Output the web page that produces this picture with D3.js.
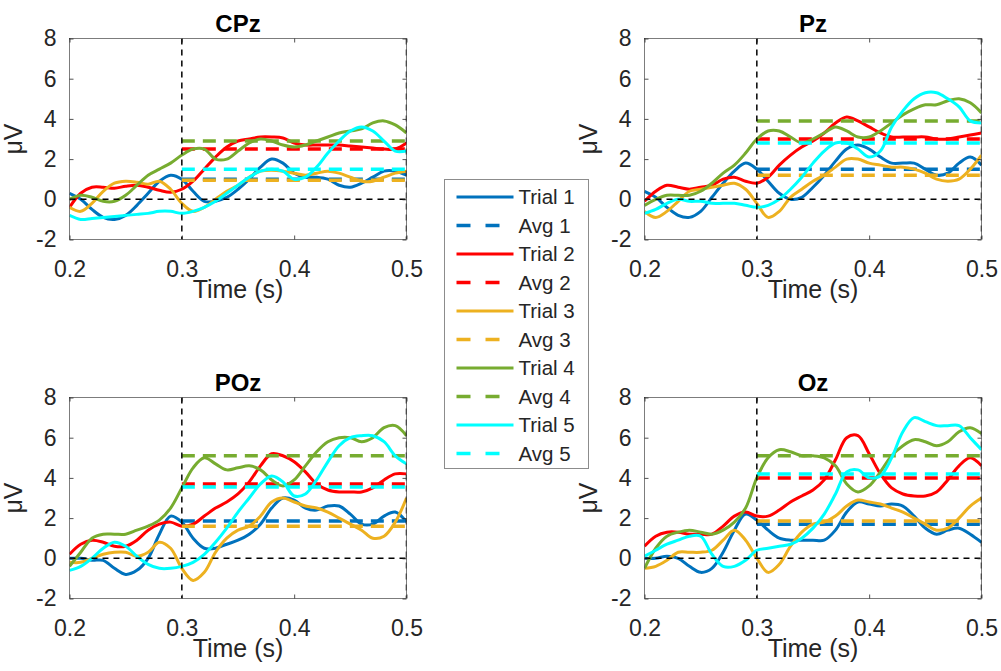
<!DOCTYPE html>
<html>
<head>
<meta charset="utf-8">
<script src="https://cdn.jsdelivr.net/npm/d3@7"></script>
<style>
  body { margin: 0; background: #fff; }
  svg { display: block; font-family: "Liberation Sans", Arial, sans-serif; }
</style>
</head>
<body>
<svg id="chart" width="1001" height="671"></svg>
<script>
// time axis (s), sampled every 10 ms
const time = [0.20, 0.21, 0.22, 0.23, 0.24, 0.25, 0.26, 0.27, 0.28, 0.29, 0.30,
              0.31, 0.32, 0.33, 0.34, 0.35, 0.36, 0.37, 0.38, 0.39, 0.40,
              0.41, 0.42, 0.43, 0.44, 0.45, 0.46, 0.47, 0.48, 0.49, 0.50];

const channels = ["CPz", "Pz", "POz", "Oz"];
const trialNames = ["Trial 1", "Trial 2", "Trial 3", "Trial 4", "Trial 5"];
const avgNames = ["Avg 1", "Avg 2", "Avg 3", "Avg 4", "Avg 5"];
const colors = ["#0072BD", "#FF0000", "#EDB120", "#77AC30", "#00FFFF"];
const xTicks = [0.2, 0.3, 0.4, 0.5];
const yTicks = [-2, 0, 2, 4, 6, 8];

// trial waveforms (uV), one row per trial
const cpzTrials = [
  [0.3, 0.0, -0.5, -0.9, -1.0, -0.8, -0.3, 0.3, 0.9, 1.2, 1.0, 0.4, -0.1, -0.1, 0.1, 0.5, 1.0, 1.6, 2.0, 1.8, 1.3, 1.1, 1.1, 1.0, 0.7, 0.6, 0.8, 1.1, 1.4, 1.4, 1.2],
  [-0.4, 0.3, 0.6, 0.6, 0.55, 0.65, 0.7, 0.6, 0.45, 0.35, 0.5, 0.9, 1.5, 2.1, 2.6, 2.9, 3.0, 3.1, 3.1, 3.05, 2.8, 2.7, 2.7, 2.7, 2.7, 2.65, 2.6, 2.55, 2.5, 2.5, 2.8],
  [-0.4, -0.6, -0.2, 0.4, 0.8, 0.9, 0.85, 0.75, 0.9, 0.5, -0.2, -0.6, -0.4, 0.0, 0.4, 0.7, 1.1, 1.4, 1.45, 1.4, 1.3, 1.2, 1.3, 1.4, 1.3, 1.1, 0.9, 0.9, 1.1, 1.3, 1.4],
  [0.0, 0.2, 0.1, -0.1, -0.1, 0.2, 0.7, 1.2, 1.5, 1.8, 2.2, 2.5, 2.5, 2.0, 2.0, 2.4, 2.8, 3.0, 2.9, 2.7, 2.6, 2.7, 2.9, 3.1, 3.3, 3.4, 3.5, 3.8, 3.9, 3.7, 3.3],
  [-0.8, -1.0, -0.95, -0.9, -0.85, -0.8, -0.75, -0.7, -0.6, -0.6, -0.7, -0.6, -0.4, -0.1, 0.3, 0.7, 1.1, 1.4, 1.5, 1.4, 1.0, 1.1, 1.6, 2.3, 2.9, 3.4, 3.6, 3.4, 2.9, 2.4, 2.4]
];
const pzTrials = [
  [0.4, 0.1, -0.4, -0.8, -0.9, -0.6, 0.1, 0.8, 1.4, 1.8, 1.5, 0.9, 0.3, 0.0, 0.1, 0.6, 1.2, 1.9, 2.5, 2.7, 2.5, 2.1, 1.8, 1.8, 1.8, 1.5, 1.2, 1.3, 1.8, 2.1, 1.7],
  [-0.1, 0.4, 0.7, 0.6, 0.5, 0.6, 0.7, 1.0, 1.1, 0.9, 0.8, 1.1, 1.7, 2.2, 2.6, 2.9, 3.3, 3.8, 4.1, 3.9, 3.6, 3.3, 3.1, 3.1, 3.1, 3.1, 3.0, 3.0, 3.1, 3.2, 3.3],
  [-0.6, -0.9, -0.6, -0.1, 0.4, 0.5, 0.6, 0.7, 0.8, 0.5, -0.2, -0.9, -0.6, 0.1, 0.5, 0.9, 1.2, 1.6, 2.0, 2.0, 1.8, 1.7, 1.6, 1.6, 1.5, 1.3, 1.0, 0.9, 1.0, 1.5, 2.2],
  [-0.3, 0.0, 0.2, 0.2, 0.2, 0.4, 0.8, 1.3, 1.7, 2.3, 3.0, 3.4, 3.4, 3.1, 2.8, 3.0, 3.3, 3.6, 3.4, 3.1, 3.1, 3.4, 3.8, 4.2, 4.5, 4.7, 4.7, 4.9, 5.0, 4.8, 4.3],
  [-0.7, -0.5, -0.2, 0.0, -0.1, -0.1, -0.2, -0.2, -0.2, -0.3, -0.4, -0.3, 0.0, 0.5, 1.1, 1.8, 2.4, 2.8, 2.8, 2.5, 2.1, 2.4, 3.6, 4.4, 5.0, 5.3, 5.3, 5.0, 4.6, 3.9, 3.8]
];
const pozTrials = [
  [0.0, 0.0, -0.1, -0.1, -0.5, -0.8, -0.6, 0.0, 1.2, 2.1, 1.8, 1.0, 0.5, 0.5, 0.7, 0.9, 1.2, 1.7, 2.5, 3.0, 2.9, 2.5, 2.4, 2.6, 2.6, 2.2, 1.7, 1.7, 2.1, 2.3, 1.8],
  [0.2, 0.7, 0.9, 0.8, 0.6, 0.6, 0.9, 1.4, 1.7, 1.8, 1.6, 1.7, 2.1, 2.5, 2.8, 3.2, 3.8, 4.6, 5.2, 5.1, 4.8, 4.3, 3.7, 3.4, 3.3, 3.3, 3.3, 3.5, 3.9, 4.2, 4.2],
  [-0.2, -0.2, 0.0, 0.2, 0.3, 0.3, 0.1, 0.3, 0.8, 0.5, -0.5, -1.1, -0.7, 0.3, 1.0, 1.4, 1.6, 2.1, 2.8, 3.0, 2.8, 2.6, 2.5, 2.3, 2.0, 1.7, 1.4, 1.0, 1.1, 1.8, 3.0],
  [-0.4, 0.3, 1.0, 1.2, 1.2, 1.2, 1.4, 1.6, 1.9, 2.5, 3.5, 4.5, 5.0, 4.7, 4.4, 4.5, 4.6, 4.4, 3.9, 3.6, 3.9, 4.6, 5.3, 5.8, 6.0, 6.0, 5.8, 6.0, 6.5, 6.6, 6.1],
  [-0.6, -0.4, 0.0, 0.5, 0.8, 0.6, 0.1, -0.3, -0.5, -0.5, -0.4, -0.2, 0.2, 0.8, 1.5, 2.3, 3.0, 3.7, 4.1, 3.8, 3.1, 3.2, 3.9, 4.8, 5.6, 6.0, 6.1, 6.1, 5.8, 5.1, 4.7]
];
const ozTrials = [
  [0.0, 0.0, 0.1, 0.0, -0.4, -0.7, -0.5, 0.3, 1.4, 2.2, 1.9, 1.4, 1.0, 0.9, 0.9, 0.9, 0.9, 1.4, 2.3, 2.8, 2.7, 2.6, 2.7, 2.6, 2.1, 1.5, 1.2, 1.4, 1.5, 1.2, 0.8],
  [0.6, 1.1, 1.3, 1.3, 1.2, 1.2, 1.2, 1.6, 2.1, 2.3, 2.1, 2.1, 2.4, 2.8, 3.1, 3.4, 3.9, 4.9, 6.0, 6.1, 5.2, 4.2, 3.5, 3.2, 3.1, 3.1, 3.3, 3.9, 4.6, 5.0, 4.6],
  [-0.5, -0.4, -0.1, 0.3, 0.3, 0.3, 0.4, 0.9, 1.4, 0.9, 0.0, -0.7, -0.3, 0.6, 1.3, 1.7, 1.8, 2.1, 2.6, 2.9, 2.8, 2.7, 2.5, 2.3, 2.0, 1.7, 1.4, 1.5, 2.0, 2.6, 3.0],
  [-0.5, 0.5, 1.1, 1.3, 1.4, 1.3, 1.2, 1.4, 1.8, 2.5, 4.0, 5.0, 5.4, 5.3, 5.1, 5.1, 5.0, 4.6, 3.7, 3.3, 3.6, 4.3, 5.1, 5.6, 5.9, 5.8, 5.6, 5.8, 6.3, 6.5, 6.2],
  [0.1, 0.4, 0.7, 0.9, 1.1, 1.1, 0.2, -0.4, -0.4, -0.1, 0.4, 0.5, 0.6, 0.7, 1.0, 1.5, 2.2, 3.2, 4.3, 4.4, 4.0, 4.1, 5.0, 6.3, 7.0, 6.8, 6.6, 6.6, 6.6, 6.0, 5.4]
];

// post-stimulus averages (0.3 - 0.5 s), one per trial
const cpzAvgs = [1.0, 2.5, 0.95, 2.9, 1.5];
const pzAvgs = [1.5, 3.0, 1.2, 3.9, 2.8];
const pozAvgs = [1.85, 3.7, 1.6, 5.1, 3.55];
const ozAvgs = [1.7, 4.0, 1.85, 5.1, 4.2];
const avgStart = 0.3;
const avgEnd = 0.5;

const trialsByChannel = [cpzTrials, pzTrials, pozTrials, ozTrials];
const avgsByChannel = [cpzAvgs, pzAvgs, pozAvgs, ozAvgs];

const svg = d3.select("#chart");
const axisColor = "#262626";

// panel geometry: 2 x 2 grid
const plotW = 337, plotH = 201;
const colX = [69.5, 644.5];
const rowY = [38.5, 397.5];

function styleAxis(a, withText) {
    a.select(".domain").remove();
    a.selectAll("line").attr("stroke", axisColor).attr("stroke-width", 0.8);
    if (withText) {
        a.selectAll("text")
            .attr("fill", axisColor)
            .style("font-size", "23px")
            .style("font-family", "Liberation Sans, Arial, sans-serif");
    }
}

function drawPanel(idx) {
    let left = colX[idx % 2];
    let top = rowY[Math.floor(idx / 2)];
    let trials = trialsByChannel[idx];
    let avgs = avgsByChannel[idx];

    let x = d3.scaleLinear().domain([0.2, 0.5]).range([0, plotW]);
    let y = d3.scaleLinear().domain([-2, 8]).range([plotH, 0]);

    let g = svg.append("g")
        .attr("transform", "translate(" + left + "," + top + ")");

    g.append("clipPath")
        .attr("id", "clip-" + idx)
        .append("rect")
        .attr("width", plotW)
        .attr("height", plotH);

    let lines = g.append("g").attr("clip-path", "url(#clip-" + idx + ")");

    let line = d3.line()
        .x(function(d) { return x(d[0]); })
        .y(function(d) { return y(d[1]); })
        .curve(d3.curveCatmullRom.alpha(0.5));

    for (let i = 0; i < trials.length; i++) {
        lines.append("path")
            .datum(d3.zip(time, trials[i]))
            .attr("fill", "none")
            .attr("stroke", colors[i])
            .attr("stroke-width", 3)
            .attr("stroke-linejoin", "round")
            .attr("d", line);

        lines.append("line")
            .attr("x1", x(avgStart))
            .attr("x2", x(avgEnd))
            .attr("y1", y(avgs[i]))
            .attr("y2", y(avgs[i]))
            .attr("stroke", colors[i])
            .attr("stroke-width", 3.5)
            .attr("stroke-dasharray", "13,8");
    }

    // reference lines: zero level and window edges
    lines.append("line")
        .attr("x1", 0).attr("x2", plotW)
        .attr("y1", y(0)).attr("y2", y(0))
        .attr("stroke", "#000")
        .attr("stroke-width", 1.5)
        .attr("stroke-dasharray", "6,5");
    [avgStart, avgEnd].forEach(function(t) {
        lines.append("line")
            .attr("x1", x(t)).attr("x2", x(t))
            .attr("y1", 0).attr("y2", plotH)
            .attr("stroke", "#000")
            .attr("stroke-width", 1.5)
            .attr("stroke-dasharray", "6,5");
    });

    // box
    g.append("rect")
        .attr("width", plotW)
        .attr("height", plotH)
        .attr("fill", "none")
        .attr("stroke", axisColor)
        .attr("stroke-width", 0.6);

    // axes with inward ticks
    g.append("g")
        .attr("transform", "translate(0," + plotH + ")")
        .call(d3.axisBottom(x).tickValues(xTicks).tickSizeInner(-4).tickSizeOuter(0)
            .tickPadding(21).tickFormat(d3.format(".1f")))
        .call(styleAxis, true);
    g.append("g")
        .call(d3.axisTop(x).tickValues(xTicks).tickSizeInner(-4).tickSizeOuter(0).tickFormat(""))
        .call(styleAxis, false);
    g.append("g")
        .call(d3.axisLeft(y).tickValues(yTicks).tickSizeInner(-4).tickSizeOuter(0)
            .tickPadding(13).tickFormat(function(d) { return String(d); }))
        .call(styleAxis, true);
    g.append("g")
        .attr("transform", "translate(" + plotW + ",0)")
        .call(d3.axisRight(y).tickValues(yTicks).tickSizeInner(-4).tickSizeOuter(0).tickFormat(""))
        .call(styleAxis, false);

    // title and labels
    g.append("text")
        .attr("x", plotW / 2)
        .attr("y", -7)
        .attr("text-anchor", "middle")
        .attr("fill", "#000")
        .style("font-size", "24px")
        .style("font-weight", "bold")
        .text(channels[idx]);

    g.append("text")
        .attr("x", plotW / 2)
        .attr("y", plotH + 58)
        .attr("text-anchor", "middle")
        .attr("fill", axisColor)
        .style("font-size", "25px")
        .text("Time (s)");

    g.append("text")
        .attr("transform", "translate(-48," + (plotH / 2) + ") rotate(-90)")
        .attr("text-anchor", "middle")
        .attr("fill", axisColor)
        .style("font-size", "25px")
        .text("\u03BCV");
}

for (let i = 0; i < channels.length; i++) {
    drawPanel(i);
}

// legend
const legend = svg.append("g").attr("transform", "translate(444.5,179.5)");
legend.append("rect")
    .attr("width", 144)
    .attr("height", 289)
    .attr("fill", "#fff")
    .attr("stroke", "#8c8c8c")
    .attr("stroke-width", 1);

let entries = [];
for (let i = 0; i < trialNames.length; i++) {
    entries.push({ name: trialNames[i], color: colors[i], dashed: false });
    entries.push({ name: avgNames[i], color: colors[i], dashed: true });
}
let rowStep = 28.5;
entries.forEach(function(e, i) {
    let cy = 17.5 + i * rowStep;
    legend.append("line")
        .attr("x1", 12).attr("x2", 69)
        .attr("y1", cy).attr("y2", cy)
        .attr("stroke", e.color)
        .attr("stroke-width", e.dashed ? 3.5 : 3)
        .attr("stroke-dasharray", e.dashed ? "14,15" : null);
    legend.append("text")
        .attr("x", 74)
        .attr("y", cy)
        .attr("dy", "0.36em")
        .attr("fill", axisColor)
        .style("font-size", "20.5px")
        .text(e.name);
});
</script>
</body>
</html>
